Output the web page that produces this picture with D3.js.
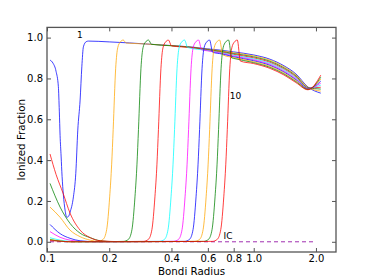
<!DOCTYPE html>
<html>
<head>
<meta charset="utf-8">
<script src="https://cdn.jsdelivr.net/npm/d3@7"></script>
<style>
  body { margin: 0; background: #fff; }
  svg { display: block; font-family: "DejaVu Sans", sans-serif; }
</style>
</head>
<body>
<svg id="chart" width="374" height="280"></svg>
<script>
// Data: [bondi radius, ionized fraction]
const curve1 = [[0.1034,0.89],[0.1069,0.875],[0.1106,0.835],[0.1135,0.76],[0.1147,0.64],[0.1157,0.52],[0.117,0.42],[0.1183,0.32],[0.120,0.23],[0.1223,0.155],[0.1246,0.12],[0.1272,0.125],[0.1293,0.145],[0.1342,0.22],[0.1378,0.335],[0.1409,0.547],[0.1446,0.694],[0.1474,0.857],[0.150,0.955],[0.1547,0.98],[0.1587,0.983],[0.2,0.979],[0.25,0.974],[0.3,0.969],[0.4,0.961],[0.5,0.954],[0.6,0.945],[0.7,0.938],[0.8,0.930],[1.0,0.915],[1.2,0.894],[1.4,0.862],[1.6,0.822],[1.83,0.758],[2.11,0.728]];
const curve2 = [[0.1034,0.17],[0.1157,0.12],[0.1293,0.057],[0.1446,0.025],[0.162,0.008],[0.1768,0.002],[0.1869,0.012],[0.1944,0.06],[0.201,0.22],[0.2055,0.38],[0.209,0.55],[0.2149,0.85],[0.2198,0.95],[0.226,0.978],[0.2337,0.988],[0.2417,0.9735],[0.3,0.969],[0.4,0.9605],[0.5,0.953],[0.6,0.943],[0.7,0.935],[0.8,0.926],[1.0,0.9103],[1.2,0.889],[1.4,0.857],[1.6,0.8173],[1.83,0.7565],[2.11,0.738]];
const curve3 = [[0.1034,0.286],[0.1157,0.17],[0.1293,0.09],[0.1446,0.042],[0.162,0.02],[0.181,0.005],[0.21,0.001],[0.2343,0.002],[0.2477,0.012],[0.2576,0.06],[0.2664,0.22],[0.2724,0.38],[0.277,0.55],[0.2848,0.85],[0.2913,0.95],[0.2995,0.978],[0.3097,0.988],[0.3204,0.967],[0.4,0.960],[0.5,0.952],[0.6,0.941],[0.7,0.932],[0.8,0.922],[1.0,0.9056],[1.2,0.884],[1.4,0.852],[1.6,0.8126],[1.83,0.755],[2.11,0.748]];
const curve4 = [[0.1034,0.43],[0.1106,0.33],[0.1196,0.238],[0.1293,0.14],[0.1446,0.057],[0.162,0.02],[0.181,0.005],[0.22,0.001],[0.2926,0.002],[0.3094,0.012],[0.3217,0.06],[0.3327,0.22],[0.3403,0.38],[0.346,0.55],[0.3558,0.85],[0.3639,0.95],[0.3742,0.978],[0.3869,0.988],[0.4001,0.9595],[0.5,0.951],[0.6,0.939],[0.7,0.929],[0.8,0.918],[1.0,0.9009],[1.2,0.879],[1.4,0.847],[1.6,0.8079],[1.83,0.7535],[2.11,0.757]];
const curve5 = [[0.1034,0.02],[0.1157,0.008],[0.1293,0.002],[0.15,0],[0.3501,0.002],[0.3702,0.012],[0.385,0.06],[0.3981,0.22],[0.4071,0.38],[0.414,0.55],[0.4257,0.85],[0.4354,0.95],[0.4477,0.978],[0.4629,0.988],[0.4788,0.9517],[0.6,0.937],[0.7,0.926],[0.8,0.914],[1.0,0.8962],[1.2,0.874],[1.4,0.842],[1.6,0.8032],[1.83,0.752],[2.11,0.767]];
const curve6 = [[0.1034,0.05],[0.1157,0.022],[0.1293,0.008],[0.1446,0.002],[0.17,0],[0.4093,0.002],[0.4328,0.012],[0.4501,0.06],[0.4654,0.22],[0.476,0.38],[0.484,0.55],[0.4977,0.85],[0.509,0.95],[0.5234,0.978],[0.5412,0.988],[0.5597,0.9403],[0.6,0.935],[0.7,0.923],[0.8,0.910],[1.0,0.8915],[1.2,0.869],[1.4,0.837],[1.6,0.7985],[1.83,0.7505],[2.11,0.777]];
const curve7 = [[0.1034,0.085],[0.1157,0.04],[0.1293,0.017],[0.1446,0.005],[0.17,0.001],[0.4626,0.002],[0.4892,0.012],[0.5087,0.06],[0.526,0.22],[0.5379,0.38],[0.547,0.55],[0.5625,0.85],[0.5752,0.95],[0.5915,0.978],[0.6117,0.988],[0.6326,0.9285],[0.7,0.920],[0.8,0.906],[1.0,0.8868],[1.2,0.864],[1.4,0.832],[1.6,0.7938],[1.83,0.749],[2.11,0.787]];
const curve8 = [[0.1034,0.012],[0.1157,0.004],[0.13,0],[0.5176,0.002],[0.5473,0.012],[0.5691,0.06],[0.5885,0.22],[0.6018,0.38],[0.612,0.55],[0.6293,0.85],[0.6436,0.95],[0.6618,0.978],[0.6843,0.988],[0.7078,0.9158],[0.8,0.902],[1.0,0.8821],[1.2,0.859],[1.4,0.827],[1.6,0.7891],[1.83,0.7475],[2.11,0.797]];
const curve9 = [[0.1034,0.01],[0.1157,0.003],[0.13,0],[0.5717,0.002],[0.6045,0.012],[0.6286,0.06],[0.65,0.22],[0.6648,0.38],[0.676,0.55],[0.6951,0.85],[0.7109,0.95],[0.731,0.978],[0.7559,0.988],[0.7818,0.9007],[0.8,0.898],[1.0,0.8774],[1.2,0.854],[1.4,0.822],[1.6,0.7844],[1.83,0.746],[2.11,0.806]];
const curve10 = [[0.1034,0.006],[0.12,0.002],[0.13,0],[0.63,0.002],[0.6663,0.012],[0.6928,0.06],[0.7164,0.22],[0.7326,0.38],[0.745,0.55],[0.7661,0.85],[0.7834,0.95],[0.8056,0.978],[0.8331,0.988],[0.8616,0.885],[1.0,0.8727],[1.2,0.849],[1.4,0.817],[1.6,0.7797],[1.83,0.7445],[2.11,0.816]];
const icLine = [[0.1034,0],[2.0,0]];

const curves = [curve1, curve2, curve3, curve4, curve5, curve6, curve7, curve8, curve9, curve10];
const xTicks = [0.1, 0.2, 0.4, 0.6, 0.8, 1.0, 2.0];
const yTicks = [0.0, 0.2, 0.4, 0.6, 0.8, 1.0];
// annotations: text, x, y (data units)
const notes = [["1", 0.1398, 0.999], ["10", 0.765, 0.70], ["IC", 0.715, 0.016]];

// matplotlib old colour cycle
const colors = ["#0000ff", "#ffa500", "#008000", "#ff0000", "#00ffff", "#ff00ff"];

const W = 374, H = 280;
const margin = {left: 47, right: 38, top: 27.4, bottom: 28};

const svg = d3.select("#chart");

const x = d3.scaleLog().domain([0.1, 2.5]).range([margin.left, W - margin.right]);
const y = d3.scaleLinear().domain([-0.05, 1.05]).range([H - margin.bottom, margin.top]);

const line = d3.line()
    .x(d => x(d[0]))
    .y(d => y(d[1]))
    .curve(d3.curveMonotoneX);

const plot = svg.append("g");

plot.append("path")
    .datum(icLine)
    .attr("d", line)
    .attr("fill", "none")
    .attr("stroke", "#a030b0")
    .attr("stroke-width", 1)
    .attr("stroke-dasharray", "4,3");

curves.forEach((c, i) => {
    plot.append("path")
        .datum(c)
        .attr("d", line)
        .attr("fill", "none")
        .attr("stroke", colors[i % colors.length])
        .attr("stroke-opacity", 0.75)
        .attr("stroke-width", 1);
});

// axes, ticks pointing inward on all sides
const fmt = d3.format(".1f");
const gBottom = svg.append("g").attr("transform", "translate(0," + (H - margin.bottom) + ")")
    .call(d3.axisBottom(x).tickValues(xTicks).tickFormat(fmt).tickSizeInner(-4).tickSizeOuter(0).tickPadding(3));
const gTop = svg.append("g").attr("transform", "translate(0," + margin.top + ")")
    .call(d3.axisTop(x).tickValues(xTicks).tickFormat("").tickSizeInner(-4).tickSizeOuter(0));
const gLeft = svg.append("g").attr("transform", "translate(" + margin.left + ",0)")
    .call(d3.axisLeft(y).tickValues(yTicks).tickFormat(fmt).tickSizeInner(-4).tickSizeOuter(0).tickPadding(4));
const gRight = svg.append("g").attr("transform", "translate(" + (W - margin.right) + ",0)")
    .call(d3.axisRight(y).tickValues(yTicks).tickFormat("").tickSizeInner(-4).tickSizeOuter(0));

[gBottom, gTop, gLeft, gRight].forEach(g => {
    g.select(".domain").remove();
    g.selectAll(".tick line").attr("stroke", "#555").attr("stroke-width", 1);
    g.selectAll("text").attr("font-size", 10).attr("fill", "#000").attr("font-family", "DejaVu Sans");
});

svg.append("rect")
    .attr("x", margin.left).attr("y", margin.top)
    .attr("width", W - margin.left - margin.right)
    .attr("height", H - margin.top - margin.bottom)
    .attr("fill", "none")
    .attr("stroke", "#555")
    .attr("stroke-width", 1.3);

svg.append("text")
    .attr("x", (margin.left + W - margin.right) / 2)
    .attr("y", 275)
    .attr("text-anchor", "middle")
    .attr("font-size", 10.3)
    .text("Bondi Radius");

svg.append("text")
    .attr("transform", "translate(25," + (margin.top + H - margin.bottom) / 2 + ") rotate(-90)")
    .attr("text-anchor", "middle")
    .attr("font-size", 10.3)
    .text("Ionized Fraction");

svg.selectAll(".note")
    .data(notes)
    .enter().append("text")
    .attr("class", "note")
    .attr("x", d => x(d[1]))
    .attr("y", d => y(d[2]))
    .attr("font-size", 9)
    .text(d => d[0]);
</script>
</body>
</html>
